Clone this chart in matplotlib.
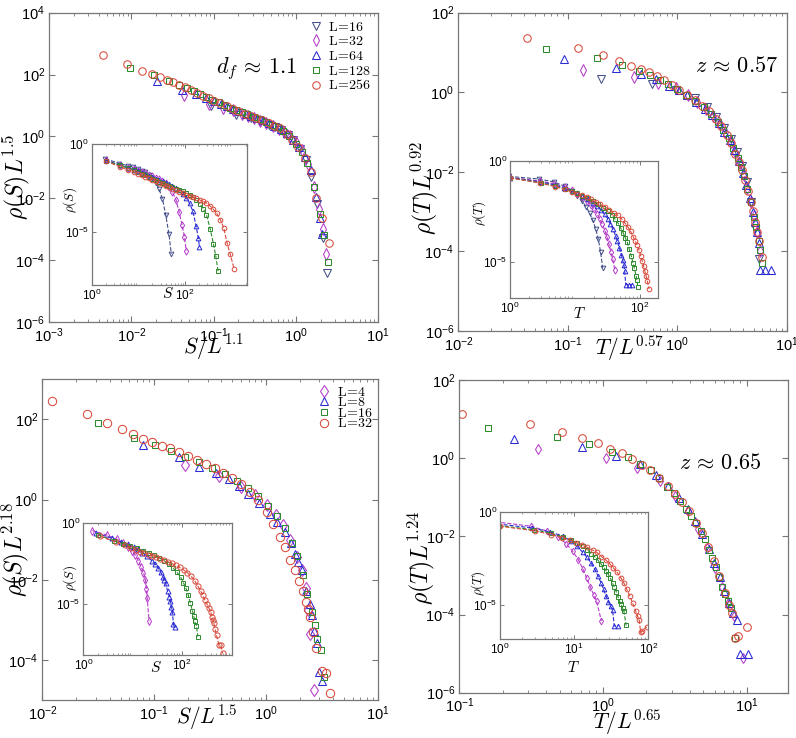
import numpy as np
import matplotlib
matplotlib.use('Agg')
import matplotlib.pyplot as plt
from matplotlib.ticker import FixedLocator, LogLocator, NullFormatter, NullLocator

plt.rcParams['font.family'] = ['Liberation Sans', 'DejaVu Sans']
plt.rcParams['mathtext.fontset'] = 'cm'

# all values are log10 of the main-panel coordinates;
# the insets show the same points un-scaled: S = x*L^a, rho = y/L^b

# ---- panel 1: rho(S)L^1.5 vs S/L^1.1
p1_L = [16, 32, 64, 128, 256]
p1_x16 = [-1.03, -0.73, -0.55, -0.43, -0.33, -0.25, -0.18, -0.10, -0.03, 0.05, 0.12, 0.19, 0.26, 0.33, 0.38]
p1_y16 = [0.98, 0.69, 0.58, 0.49, 0.38, 0.29, 0.21, 0.05, -0.10, -0.40, -0.75, -1.3, -2.2, -3.3, -4.42]
p1_x32 = [-1.36, -1.06, -0.88, -0.76, -0.66, -0.58, -0.51, -0.43, -0.36, -0.28, -0.21, -0.14, -0.07, 0.00,
          0.07, 0.15, 0.22, 0.28, 0.33, 0.37]
p1_y32 = [1.34, 1.05, 0.92, 0.84, 0.74, 0.66, 0.59, 0.50, 0.42, 0.33, 0.25, 0.14, 0.02, -0.18,
          -0.45, -0.90, -1.62, -2.35, -3.0, -3.79]
p1_x64 = [-1.69, -1.39, -1.21, -1.09, -0.99, -0.91, -0.84, -0.76, -0.69, -0.61, -0.54, -0.47, -0.40, -0.33,
          -0.26, -0.18, -0.11, -0.03, 0.04, 0.11, 0.18, 0.25, 0.30, 0.32]
p1_y64 = [1.80, 1.50, 1.36, 1.25, 1.15, 1.06, 0.98, 0.89, 0.81, 0.73, 0.66, 0.59, 0.52, 0.43,
          0.35, 0.24, 0.10, -0.11, -0.34, -0.66, -1.10, -1.95, -2.65, -3.14]
p1_x128 = [-2.02, -1.72, -1.54, -1.42, -1.32, -1.24, -1.17, -1.09, -1.02, -0.94, -0.87, -0.80, -0.73, -0.66,
           -0.59, -0.51, -0.44, -0.36, -0.29, -0.22, -0.15, -0.08, 0.00, 0.07, 0.14, 0.22, 0.29, 0.34, 0.39]
p1_y128 = [2.20, 1.97, 1.79, 1.66, 1.55, 1.46, 1.38, 1.28, 1.19, 1.10, 1.01, 0.93, 0.85, 0.78,
           0.71, 0.63, 0.56, 0.48, 0.38, 0.29, 0.17, 0.01, -0.23, -0.50, -0.85, -1.65, -2.50, -3.2, -4.06]
p1_x256 = [-2.35, -2.05, -1.87, -1.75, -1.65, -1.57, -1.50, -1.42, -1.35, -1.27, -1.20, -1.13, -1.06, -0.99,
           -0.92, -0.84, -0.77, -0.70, -0.62, -0.55, -0.48, -0.41, -0.33, -0.26, -0.19, -0.11, -0.04, 0.03,
           0.11, 0.18, 0.25, 0.32, 0.40]
p1_y256 = [2.64, 2.33, 2.13, 2.02, 1.91, 1.83, 1.76, 1.67, 1.59, 1.49, 1.40, 1.32, 1.24, 1.16,
           1.07, 0.98, 0.90, 0.83, 0.74, 0.67, 0.60, 0.53, 0.43, 0.35, 0.26, 0.09, -0.10, -0.33,
           -0.70, -1.15, -2.0, -2.65, -3.46]

# ---- panel 2: rho(T)L^0.92 vs T/L^0.57
p2_L = [16, 32, 64, 128, 256]
p2_x16 = [-0.698, -0.232, -0.01, 0.159, 0.268, 0.355, 0.428, 0.49, 0.544, 0.593, 0.636, 0.676, 0.712, 0.745]
p2_y16 = [0.333, 0.2, 0.057, -0.15, -0.38, -0.62, -0.90, -1.18, -1.50, -1.85, -2.25, -2.75, -3.4, -4.2]
p2_x32 = [-0.863, -0.391, -0.172, -0.013, 0.096, 0.18, 0.26, 0.33, 0.39, 0.44, 0.49, 0.53, 0.57, 0.61,
          0.64, 0.67, 0.70, 0.73, 0.76]
p2_y32 = [0.559, 0.376, 0.24, 0.10, -0.07, -0.24, -0.41, -0.59, -0.80, -1.00, -1.25, -1.50, -1.77, -2.08,
          -2.40, -2.75, -3.12, -3.5, -4.0]
p2_x64 = [-1.031, -0.561, -0.333, -0.196, -0.075, 0.012, 0.09, 0.17, 0.25, 0.32, 0.38, 0.43, 0.48, 0.52,
          0.56, 0.60, 0.63, 0.66, 0.69, 0.71, 0.73, 0.742, 0.758, 0.803, 0.855]
p2_y64 = [0.828, 0.617, 0.459, 0.325, 0.17, 0.06, -0.08, -0.24, -0.41, -0.58, -0.78, -0.99, -1.20, -1.45,
          -1.73, -2.04, -2.32, -2.65, -3.0, -3.25, -3.50, -3.80, -4.47, -4.47, -4.47]
p2_x128 = [-1.201, -0.729, -0.506, -0.348, -0.247, -0.16, -0.087, 0.0, 0.08, 0.16, 0.24, 0.31, 0.37, 0.42,
           0.47, 0.51, 0.55, 0.58, 0.61, 0.64, 0.67, 0.70, 0.72, 0.745, 0.758, 0.773]
p2_y128 = [1.087, 0.853, 0.685, 0.542, 0.44, 0.32, 0.21, 0.07, -0.07, -0.22, -0.38, -0.55, -0.74, -0.95,
           -1.16, -1.40, -1.65, -1.88, -2.10, -2.43, -2.76, -3.13, -3.38, -3.75, -3.96, -4.30]
p2_x256 = [-1.375, -0.903, -0.675, -0.531, -0.421, -0.333, -0.257, -0.186, -0.12, -0.05, 0.02, 0.09, 0.16,
           0.23, 0.29, 0.35, 0.40, 0.45, 0.49, 0.53, 0.56, 0.59, 0.62, 0.645, 0.67, 0.69, 0.71, 0.73, 0.75, 0.773]
p2_y256 = [1.371, 1.105, 0.936, 0.793, 0.667, 0.584, 0.501, 0.41, 0.30, 0.19, 0.06, -0.06, -0.20,
           -0.35, -0.48, -0.66, -0.86, -1.07, -1.28, -1.55, -1.75, -1.95, -2.21, -2.48, -2.76, -2.99, -3.25,
           -3.5, -3.75, -4.13]

# ---- panel 3: rho(S)L^2.18 vs S/L^1.5
p3_L = [4, 8, 16, 32]
p3_x4 = [-0.72, -0.42, -0.22, -0.10, 0.007, 0.09, 0.15, 0.216, 0.276, 0.32, 0.359, 0.38, 0.395, 0.433]
p3_y4 = [0.86, 0.58, 0.317, 0.108, -0.14, -0.39, -0.64, -1.02, -1.43, -1.77, -2.2, -2.75, -3.35, -4.75]
p3_x8 = [-1.096, -0.777, -0.598, -0.45, -0.33, -0.24, -0.157, -0.06, 0.037, 0.10, 0.171, 0.22, 0.26, 0.29,
         0.32, 0.359, 0.395, 0.415, 0.433, 0.455, 0.478, 0.50]
p3_y8 = [1.358, 1.05, 0.817, 0.66, 0.50, 0.35, 0.15, -0.08, -0.35, -0.57, -0.81, -1.08, -1.35, -1.55,
         -1.77, -2.27, -2.6, -2.89, -3.27, -3.58, -4.31, -4.52]
p3_x16 = [-1.499, -1.18, -0.992, -0.85, -0.72, -0.60, -0.48, -0.37, -0.26, -0.16, -0.07, 0.02, 0.10, 0.17,
          0.23, 0.28, 0.33, 0.37, 0.41, 0.44, 0.455, 0.493, 0.523]
p3_y16 = [1.90, 1.525, 1.358, 1.22, 1.07, 0.93, 0.78, 0.64, 0.47, 0.29, 0.10, -0.17, -0.42, -0.72,
          -1.08, -1.42, -1.87, -2.35, -2.81, -3.14, -3.48, -3.75, -4.43]
p3_x32 = [-1.916, -1.597, -1.418, -1.284, -1.186, -1.096, -1.022, -0.932, -0.858, -0.78, -0.70, -0.62,
          -0.54, -0.46, -0.38, -0.30, -0.22, -0.14, -0.07, 0.007, 0.066, 0.126, 0.171, 0.216, 0.26, 0.299,
          0.335, 0.359, 0.38, 0.395, 0.42, 0.45, 0.50, 0.538, 0.574]
p3_y32 = [2.467, 2.125, 1.90, 1.75, 1.625, 1.51, 1.44, 1.33, 1.275, 1.18, 1.08, 0.99,
          0.89, 0.78, 0.66, 0.53, 0.38, 0.20, 0.0, -0.30, -0.6, -0.93, -1.18, -1.52, -1.77, -2.02,
          -2.27, -2.56, -2.72, -2.93, -3.3, -3.7, -4.27, -4.32, -4.82]

# ---- panel 4: rho(T)L^1.24 vs T/L^0.65
p4_L = [4, 8, 16, 32]
p4_x4 = [-0.45, 0.021, 0.239, 0.395, 0.504, 0.591, 0.664, 0.726, 0.78, 0.829, 0.872, 0.912, 0.977]
p4_y4 = [0.235, 0.0, -0.26, -0.58, -0.96, -1.36, -1.8, -2.3, -2.8, -3.3, -3.7, -4.05, -5.12]
p4_x8 = [-0.617, -0.149, 0.09, 0.258, 0.367, 0.454, 0.527, 0.589, 0.643, 0.692, 0.735, 0.775, 0.811,
         0.844, 0.875, 0.904, 0.932, 0.954, 1.011]
p4_y8 = [0.49, 0.277, 0.06, -0.15, -0.42, -0.72, -1.03, -1.31, -1.62, -1.94, -2.32, -2.67, -3.04,
         -3.4, -3.7, -3.95, -4.14, -5.0, -5.0]
p4_x16 = [-0.798, -0.322, -0.095, 0.062, 0.171, 0.258, 0.331, 0.393, 0.447, 0.496, 0.539, 0.579, 0.615,
          0.648, 0.679, 0.708, 0.736, 0.761, 0.785, 0.808, 0.83, 0.85, 0.87, 0.889, 0.919]
p4_y16 = [0.78, 0.55, 0.362, 0.17, 0.02, -0.16, -0.31, -0.52, -0.73, -0.90, -1.09, -1.29, -1.47,
          -1.65, -1.86, -2.06, -2.34, -2.56, -2.78, -3.05, -3.3, -3.47, -3.65, -3.84, -4.61]
p4_x32 = [-0.984, -0.508, -0.288, -0.144, -0.037, 0.049, 0.13, 0.20, 0.27, 0.33, 0.39, 0.45, 0.50, 0.55,
          0.60, 0.65, 0.69, 0.73, 0.77, 0.81, 0.85, 0.88, 0.90, 0.919, 0.94, 1.0]
p4_y32 = [1.12, 0.866, 0.661, 0.507, 0.38, 0.226, 0.12, -0.02, -0.17, -0.30, -0.52, -0.71, -0.91, -1.12,
          -1.36, -1.65, -1.92, -2.27, -2.62, -3.02, -3.45, -3.75, -3.95, -4.61, -4.55, -4.31]

navy, violet, blue, green, red = '#44508a', '#b43cc8', '#2a2ad2', '#2e8b2e', '#d84a3c'
GRAY = '#777777'


def style_main(ax, xlim, ylim, yticks):
    ax.set_xscale('log')
    ax.set_yscale('log')
    ax.set_xlim(*xlim)
    ax.set_ylim(*ylim)
    ax.yaxis.set_major_locator(FixedLocator(yticks))
    ax.yaxis.set_minor_locator(NullLocator())
    ax.xaxis.set_major_locator(LogLocator(base=10))
    ax.xaxis.set_minor_locator(LogLocator(base=10, subs=np.arange(2, 10)))
    ax.xaxis.set_minor_formatter(NullFormatter())
    ax.tick_params(which='both', direction='in', top=True, right=True, color=GRAY, labelsize=10.5, pad=3)
    ax.tick_params(which='major', length=4.5, width=0.8)
    ax.tick_params(which='minor', length=2.5, width=0.6)
    for s in ax.spines.values():
        s.set_color(GRAY)
        s.set_linewidth(0.9)


def style_inset(ax, xlim, ylim, xticks):
    ax.set_xscale('log')
    ax.set_yscale('log')
    ax.set_xlim(*xlim)
    ax.set_ylim(*ylim)
    ax.xaxis.set_major_locator(FixedLocator(xticks))
    ax.xaxis.set_minor_locator(LogLocator(base=10, subs=np.arange(2, 10)))
    ax.xaxis.set_minor_formatter(NullFormatter())
    ax.yaxis.set_major_locator(FixedLocator([1e-5, 1.0]))
    ax.yaxis.set_minor_locator(NullLocator())
    ax.tick_params(which='both', direction='in', top=True, right=True, color=GRAY, labelsize=8.5, pad=2)
    ax.tick_params(which='major', length=3, width=0.7)
    ax.tick_params(which='minor', length=1.5, width=0.5)
    for s in ax.spines.values():
        s.set_color(GRAY)
        s.set_linewidth(0.9)


def draw(ax, ins, xs, ys, L, a, b, mk, col, ms, label):
    x = 10.0 ** np.array(xs)
    y = 10.0 ** np.array(ys)
    ax.plot(x, y, ls='none', marker=mk, ms=ms, mfc='none', mec=col, mew=0.75, label=label)
    ins.plot(x * L ** a, y / L ** b, ls='--', lw=0.8, color=col, marker=mk, ms=ms * 0.62,
             mfc='none', mec=col, mew=0.7)


def labels(ax, xl, yl, xpos, ypos):
    ax.text(xpos[0], xpos[1], xl, transform=ax.transAxes, ha='center', va='center', fontsize=15.5)
    ax.text(ypos[0], ypos[1], yl, transform=ax.transAxes, ha='center', va='center', fontsize=17,
            rotation=90)


fig = plt.figure(figsize=(7.96, 7.38), dpi=100)

ax1 = fig.add_axes([0.0619, 0.5637, 0.4129, 0.4191])
in1 = fig.add_axes([0.1152, 0.6138, 0.1947, 0.1911])
ax2 = fig.add_axes([0.5758, 0.5515, 0.4126, 0.4313])
in2 = fig.add_axes([0.6407, 0.5966, 0.1863, 0.1856])
ax3 = fig.add_axes([0.0532, 0.0515, 0.4214, 0.4346])
in3 = fig.add_axes([0.1047, 0.1125, 0.1872, 0.1784])
ax4 = fig.add_axes([0.5771, 0.0614, 0.4133, 0.4237])
in4 = fig.add_axes([0.6281, 0.1337, 0.1863, 0.1721])

mk5 = ['v', 'd', '^', 's', 'o']
col5 = [navy, violet, blue, green, red]
ms5 = [5.4, 5.8, 5.4, 4.4, 5.4]
mk4 = ['d', '^', 's', 'o']
col4 = [violet, blue, green, red]
ms4 = [6.0, 5.8, 4.8, 6.0]

p1_xs = [p1_x16, p1_x32, p1_x64, p1_x128, p1_x256]
p1_ys = [p1_y16, p1_y32, p1_y64, p1_y128, p1_y256]
for i, L in enumerate(p1_L):
    draw(ax1, in1, p1_xs[i], p1_ys[i], L, 1.1, 1.5, mk5[i], col5[i], ms5[i], r'$\mathrm{L\!=\!%d}$' % L)

p2_xs = [p2_x16, p2_x32, p2_x64, p2_x128, p2_x256]
p2_ys = [p2_y16, p2_y32, p2_y64, p2_y128, p2_y256]
for i, L in enumerate(p2_L):
    draw(ax2, in2, p2_xs[i], p2_ys[i], L, 0.57, 0.92, mk5[i], col5[i], ms5[i], None)

p3_xs = [p3_x4, p3_x8, p3_x16, p3_x32]
p3_ys = [p3_y4, p3_y8, p3_y16, p3_y32]
for i, L in enumerate(p3_L):
    draw(ax3, in3, p3_xs[i], p3_ys[i], L, 1.5, 2.18, mk4[i], col4[i], ms4[i], r'$\mathrm{L\!=\!%d}$' % L)

p4_xs = [p4_x4, p4_x8, p4_x16, p4_x32]
p4_ys = [p4_y4, p4_y8, p4_y16, p4_y32]
for i, L in enumerate(p4_L):
    draw(ax4, in4, p4_xs[i], p4_ys[i], L, 0.65, 1.24, mk4[i], col4[i], ms4[i] * 0.92, None)

# main axes
style_main(ax1, (1e-3, 1e1), (1e-6, 1e4), [1e-6, 1e-4, 1e-2, 1, 1e2, 1e4])
style_main(ax2, (1e-2, 1e1), (1e-6, 1e2), [1e-6, 1e-4, 1e-2, 1, 1e2])
style_main(ax3, (1e-2, 1e1), (1e-5, 1e3), [1e-4, 1e-2, 1, 1e2])
style_main(ax4, (1e-1, 10 ** 1.29), (1e-6, 1e2), [1e-6, 1e-4, 1e-2, 1, 1e2])

labels(ax1, r'$S/L^{1.1}$', r'$\rho(S)L^{1.5}$', (0.50, -0.081), (-0.100, 0.47))
labels(ax2, r'$T/L^{0.57}$', r'$\rho(T)L^{0.92}$', (0.52, -0.055), (-0.102, 0.45))
labels(ax3, r'$S/L^{1.5}$', r'$\rho(S)L^{2.18}$', (0.49, -0.054), (-0.079, 0.47))
labels(ax4, r'$T/L^{0.65}$', r'$\rho(T)L^{1.24}$', (0.51, -0.094), (-0.114, 0.43))

ax1.text(0.631, 0.820, r'$d_f\,\approx\,1.1$', transform=ax1.transAxes, ha='center', va='center', fontsize=16)
ax2.text(0.848, 0.830, r'$z\,\approx\,0.57$', transform=ax2.transAxes, ha='center', va='center', fontsize=16)
ax4.text(0.792, 0.734, r'$z\,\approx\,0.65$', transform=ax4.transAxes, ha='center', va='center', fontsize=16)

ax1.legend(loc='upper right', frameon=False, fontsize=10, handlelength=0.8, handletextpad=0.5,
           labelspacing=0.05, borderaxespad=0.3, borderpad=0.2)
ax3.legend(loc='upper right', frameon=False, fontsize=10, handlelength=0.8, handletextpad=0.5,
           labelspacing=-0.25, borderaxespad=0.3, borderpad=0.1)

# insets
style_inset(in1, (1, 10 ** 3.32), (1e-8, 1), [1, 100])
style_inset(in2, (1, 10 ** 2.29), (10 ** -6.78, 1), [1, 100])
style_inset(in3, (1, 10 ** 3.03), (10 ** -8.2, 1), [1, 100])
style_inset(in4, (1, 100), (10 ** -6.85, 1), [1, 10, 100])

for ins, yl, ypos, xl, xpos in [
        (in1, r'$\rho(S)$', (-0.14, 0.60), r'$S$', (0.49, -0.06)),
        (in2, r'$\rho(T)$', (-0.209, 0.62), r'$T$', (0.47, -0.114)),
        (in3, r'$\rho(S)$', (-0.089, 0.585), r'$S$', (0.49, -0.096)),
        (in4, r'$\rho(T)$', (-0.148, 0.44), r'$T$', (0.494, -0.224))]:
    ins.text(ypos[0], ypos[1], yl, transform=ins.transAxes, rotation=90, ha='center', va='center',
             fontsize=9.5)
    ins.text(xpos[0], xpos[1], xl, transform=ins.transAxes, ha='center', va='center', fontsize=11)

fig.savefig('out.png', dpi=100)
